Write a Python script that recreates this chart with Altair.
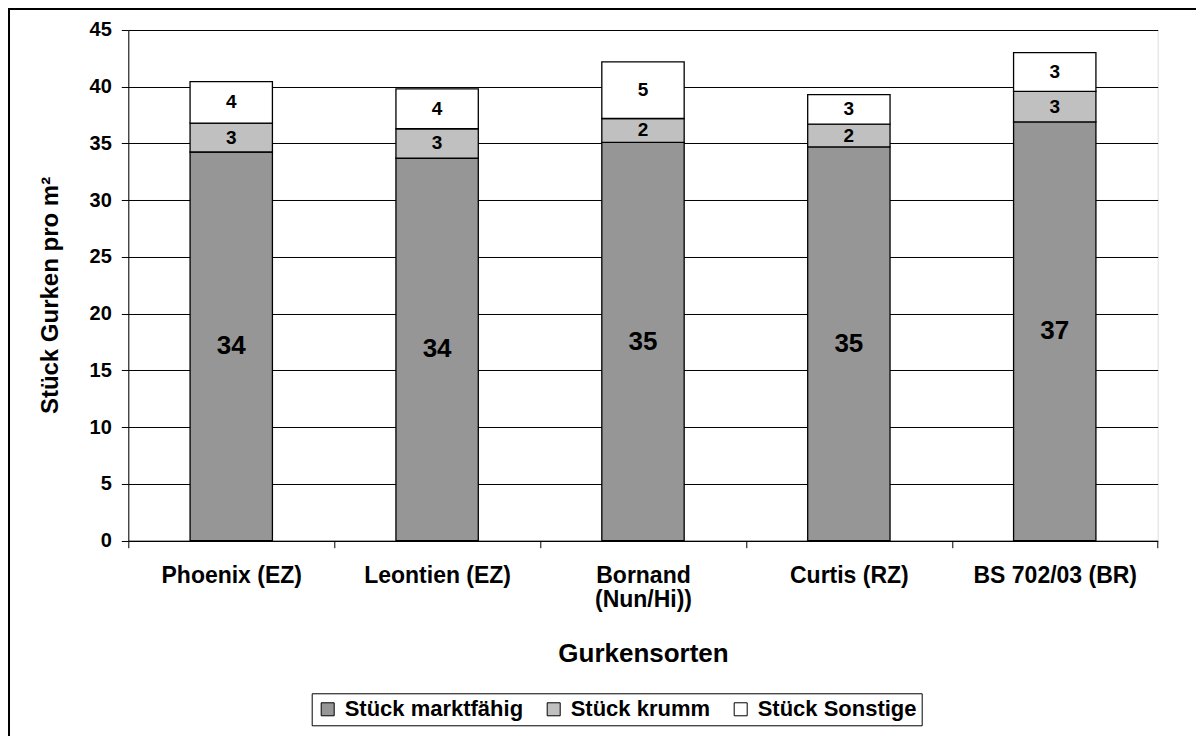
import altair as alt
import pandas as pd

categories = ["Phoenix (EZ)", "Leontien (EZ)", "Bornand (Nun/Hi))", "Curtis (RZ)", "BS 702/03 (BR)"]
series_names = ["Stück marktfähig", "Stück krumm", "Stück Sonstige"]
marktfaehig = [34.25, 33.7, 35.1, 34.7, 36.9]
krumm = [2.55, 2.6, 2.1, 2.0, 2.7]
sonstige = [3.65, 3.52, 5.0, 2.6, 3.4]
series_colors = ["#969696", "#C0C0C0", "#FFFFFF"]
y_ticks = [0, 5, 10, 15, 20, 25, 30, 35, 40, 45]

rows = []
for i, cat in enumerate(categories):
    for j, vals in enumerate([marktfaehig, krumm, sonstige]):
        rows.append({"Sorte": cat, "Serie": series_names[j], "Wert": vals[i], "Ordnung": j})
df = pd.DataFrame(rows)

FONT = "Liberation Sans"

x_axis = alt.Axis(
    title="Gurkensorten", labelAngle=0, tickBand="extent", tickSize=7, tickColor="black",
    domainColor="black", domainWidth=1, labelFontSize=23, labelFontWeight="bold",
    labelColor="black", labelFont=FONT, labelPadding=17, labelLineHeight=24,
    labelOverlap=False, labelLimit=400,
    labelExpr="datum.label == 'Bornand (Nun/Hi))' ? ['Bornand', '(Nun/Hi))'] : datum.label",
    titleFontSize=26, titleFontWeight="bold", titleColor="black", titleFont=FONT,
    titleY=121, titleBaseline="alphabetic", grid=False,
)
y_axis = alt.Axis(
    title="Stück Gurken pro m²", values=y_ticks, tickSize=7, tickColor="black",
    domainColor="black", labelFontSize=20, labelFontWeight="bold", labelColor="black",
    labelFont=FONT, labelPadding=10, grid=True, gridColor="black", gridWidth=1,
    titleFontSize=24, titleFontWeight="bold", titleColor="black", titleFont=FONT,
    titleX=-78, titleY=265, titleBaseline="middle",
)
x_scale = alt.Scale(paddingInner=0, paddingOuter=0)
y_scale = alt.Scale(domain=[0, 45], nice=False)

base = alt.Chart(df).transform_stack(
    stack="Wert", groupby=["Sorte"], as_=["y0", "y1"],
    sort=[alt.SortField("Ordnung", order="ascending")],
).transform_calculate(mid="(datum.y0 + datum.y1) / 2")

X = alt.X("Sorte:N", sort=categories, scale=x_scale, axis=x_axis)

bars = base.mark_bar(width=alt.RelativeBandSize(0.4), stroke="black", strokeWidth=1.3).encode(
    x=X,
    y=alt.Y("y0:Q", scale=y_scale, axis=y_axis),
    y2="y1:Q",
    color=alt.Color(
        "Serie:N",
        scale=alt.Scale(domain=series_names, range=series_colors),
        legend=alt.Legend(
            title=None, orient="none", legendX=183.4, legendY=663.3, direction="horizontal",
            symbolType="square", symbolSize=169, symbolStrokeColor="black", symbolStrokeWidth=1,
            labelFontSize=22, labelFontWeight="bold", labelColor="black", labelFont=FONT,
            labelOffset=6, columnPadding=19, strokeColor="black", padding=5,
            labelLimit=400,
        ),
    ),
)

big_labels = base.transform_filter(alt.datum.Ordnung == 0).mark_text(
    fontSize=26, fontWeight="bold", color="black", baseline="middle", font=FONT
).encode(
    x=X,
    y=alt.Y("mid:Q", scale=y_scale, axis=y_axis),
    text=alt.Text("Wert:Q", format=".0f"),
)

small_labels = base.transform_filter(alt.datum.Ordnung > 0).mark_text(
    fontSize=19, fontWeight="bold", color="black", baseline="middle", font=FONT
).encode(
    x=X,
    y=alt.Y("mid:Q", scale=y_scale, axis=y_axis),
    text=alt.Text("Wert:Q", format=".0f"),
)

frame_data = alt.Data(values=[{"k": 1}])
frame_top = alt.Chart(frame_data).mark_rule(color="black", strokeWidth=2).encode(
    x=alt.value(-121), x2=alt.value(1100), y=alt.value(-21)
)
frame_left = alt.Chart(frame_data).mark_rule(color="black", strokeWidth=2).encode(
    x=alt.value(-119.3), y=alt.value(-22), y2=alt.value(760)
)

chart = alt.layer(bars, big_labels, small_labels, frame_top, frame_left).properties(
    width=1029.4,
    height=510.7,
    autosize=alt.AutoSizeParams(type="none"),
    padding={"left": 120.3, "top": 22, "right": 38, "bottom": 195},
    background="white",
).configure_view(stroke="black", strokeWidth=1).configure(font=FONT)

chart.save("out.html", embed_options={"renderer": "svg", "actions": False})
